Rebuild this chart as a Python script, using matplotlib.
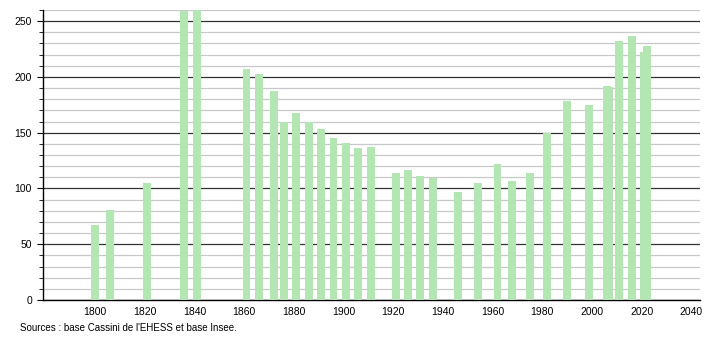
import matplotlib.pyplot as plt
from matplotlib.ticker import MultipleLocator

# census years and population
years = [1800, 1806, 1821, 1836, 1841, 1861, 1866, 1872, 1876, 1881, 1886,
         1891, 1896, 1901, 1906, 1911, 1921, 1926, 1931, 1936, 1946, 1954,
         1962, 1968, 1975, 1982, 1990, 1999, 2006, 2007, 2011, 2016, 2021, 2022]
population = [67, 81, 105, 259, 262, 207, 203, 187, 160, 168, 160,
              153, 145, 141, 136, 137, 114, 117, 111, 109, 97, 105,
              122, 107, 114, 150, 178, 175, 192, 191, 232, 237, 222, 228]
xticks = list(range(1800, 2041, 20))
source = "Sources : base Cassini de l'EHESS et base Insee."

plt.rcParams['font.family'] = ['Liberation Sans', 'DejaVu Sans']

fig = plt.figure(figsize=(7.1, 3.4), dpi=100)
ax = fig.add_axes([43 / 710, 1 - 300 / 340, 657 / 710, 290 / 340])

ax.bar(years, population, width=3.2, color='#b3e6b3', zorder=3)

ax.set_xlim(1779.1, 2043.5)
ax.set_ylim(0, 260)
ax.set_xticks(xticks)
ax.yaxis.set_major_locator(MultipleLocator(50))
ax.yaxis.set_minor_locator(MultipleLocator(10))

ax.grid(axis='y', which='major', color='#333333', linewidth=0.9, zorder=1)
ax.grid(axis='y', which='minor', color='#c8c8c8', linewidth=0.9, zorder=1)

for side in ['top', 'right']:
    ax.spines[side].set_visible(False)
ax.spines['left'].set_linewidth(1.0)
ax.spines['bottom'].set_linewidth(1.0)

ax.tick_params(axis='x', length=0, labelsize=7.5, pad=5)
ax.tick_params(axis='y', which='major', length=4, labelsize=7.5, pad=4)
ax.tick_params(axis='y', which='minor', length=3)

fig.text(20 / 710, 1 - 328 / 340, source, fontsize=7, va='center', ha='left')

fig.savefig('out.png', dpi=100)
